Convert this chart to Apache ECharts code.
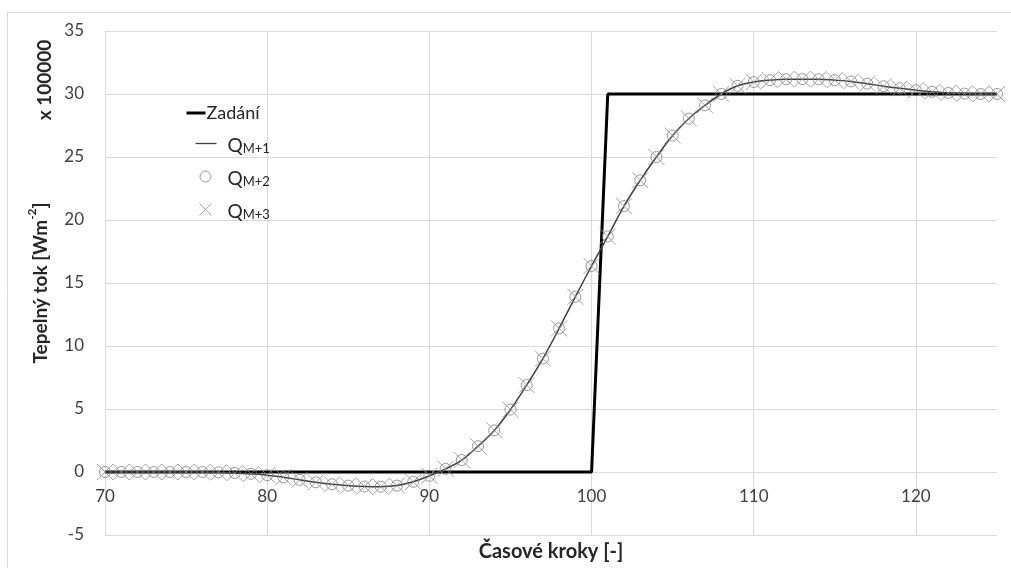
<!DOCTYPE html>
<html>
<head>
<meta charset="utf-8">
<script src="https://cdn.jsdelivr.net/npm/echarts@6/dist/echarts.min.js"></script>
<style>
html,body{margin:0;padding:0;background:#fff;}
#chart{width:1011px;height:568px;}
</style>
</head>
<body>
<div id="chart"></div>
<script>
// Time steps (x axis)
var steps = [70,71,72,73,74,75,76,77,78,79,80,81,82,83,84,85,86,87,88,89,90,91,92,93,94,95,96,97,98,99,100,101,102,103,104,105,106,107,108,109,110,111,112,113,114,115,116,117,118,119,120,121,122,123,124,125];
// Prescribed heat flux (x 100000 W/m2)
var zadaniX = [70, 100, 101, 125];
var zadaniY = [0, 0, 30, 30];
// Reconstructed heat flux, x 100000
var qM1 = [0,0,0,0,0,0,0,-0.03,-0.08,-0.15,-0.25,-0.42,-0.62,-0.82,-0.98,-1.08,-1.15,-1.17,-1.08,-0.78,-0.3,0.25,0.95,2.05,3.3,4.95,6.9,9.0,11.4,13.9,16.35,18.7,21.1,23.15,25.0,26.7,28.05,29.1,30.0,30.65,30.95,31.1,31.17,31.18,31.17,31.1,31.0,30.82,30.62,30.45,30.3,30.18,30.08,30.03,30.0,30.0];
var qM2 = [0,0,0,0,0,0,0,-0.03,-0.08,-0.15,-0.25,-0.42,-0.62,-0.82,-0.98,-1.08,-1.15,-1.17,-1.08,-0.78,-0.3,0.25,0.95,2.05,3.3,4.95,6.9,9.0,11.4,13.9,16.35,18.7,21.1,23.15,25.0,26.7,28.05,29.1,30.0,30.65,30.95,31.1,31.17,31.18,31.17,31.1,31.0,30.82,30.62,30.45,30.3,30.18,30.08,30.03,30.0,30.0];
var qM3 = [0,0,0,0,0,0,0,-0.03,-0.08,-0.15,-0.25,-0.42,-0.62,-0.82,-0.98,-1.08,-1.15,-1.17,-1.08,-0.78,-0.3,0.25,0.95,2.05,3.3,4.95,6.9,9.0,11.4,13.9,16.35,18.7,21.1,23.15,25.0,26.7,28.05,29.1,30.0,30.65,30.95,31.1,31.17,31.18,31.17,31.1,31.0,30.82,30.62,30.45,30.3,30.18,30.08,30.03,30.0,30.0];
var yTicks = {min: -5, max: 35, interval: 5};
var xTicks = {min: 70, max: 125, interval: 10};
var seriesNames = ['Zadání', 'Q M+1', 'Q M+2', 'Q M+3'];

function pairs(xs, ys) { return xs.map(function (x, i) { return [x, ys[i]]; }); }

var FONT = 'Lato, "Open Sans", sans-serif';
var chart = echarts.init(document.getElementById('chart'), null, {renderer: 'canvas'});
var crossPath = 'path://M0,0L10,10M10,0L0,10';
var GRID_TOP = 31, GRID_BOTTOM = 33, H = 568;
// x axis drawn at the y = 0 line: offset from plot bottom computed through the y scale range
var plotH = H - GRID_TOP - GRID_BOTTOM;
var zeroOffset = -plotH * (0 - yTicks.min) / (yTicks.max - yTicks.min);

var option = {
  animation: false,
  backgroundColor: '#fff',
  textStyle: {fontFamily: FONT},
  grid: {left: 105, right: 14, top: GRID_TOP, bottom: GRID_BOTTOM, containLabel: false, outerBoundsMode: 'none'},
  graphic: [
    {type: 'rect', shape: {x: 7.5, y: 12.5, width: 1020, height: 580}, style: {fill: 'none', stroke: '#d9d9d9', lineWidth: 1}, silent: true, z: -10},
    {type: 'text', x: 45, y: 80, rotation: Math.PI / 2, style: {text: 'x 100000', font: 'bold 19px ' + FONT, fill: '#262626', align: 'center', verticalAlign: 'middle'}}
  ],
  legend: {
    orient: 'vertical',
    left: 176,
    top: 99,
    itemGap: 11,
    itemWidth: 36,
    itemHeight: 12,
    data: [
      {name: seriesNames[0], icon: 'path://M0,0M36,12M5,4.5H24V7.5H5Z', itemStyle: {color: '#000', borderWidth: 0}},
      {name: seriesNames[1], icon: 'path://M0,0M36,12M14,5.35H35V6.65H14Z', itemStyle: {color: '#404040', borderWidth: 0}},
      {name: seriesNames[2], icon: 'path://M0,0M36,12M29.5,6A5.5,5.5 0 1 1 18.5,6A5.5,5.5 0 1 1 29.5,6Z',
        itemStyle: {color: 'rgba(0,0,0,0)', borderColor: '#7f7f7f', borderWidth: 1}},
      {name: seriesNames[3], icon: 'path://M0,0M36,12M18,0L30,12M30,0L18,12',
        itemStyle: {color: 'rgba(0,0,0,0)', borderColor: '#8c8c8c', borderWidth: 1}}
    ],
    formatter: function (name) {
      if (name.indexOf(' ') < 0) return '{z|' + name + '}';
      var p = name.split(' ');
      return '{q|' + p[0] + '}{s|' + p[1] + '}';
    },
    textStyle: {
      color: '#262626',
      fontFamily: FONT,
      rich: {
        z: {fontSize: 18, lineHeight: 23, fontFamily: FONT, color: '#262626', padding: [0, 0, 0, -16]},
        q: {fontSize: 19, lineHeight: 23, fontFamily: FONT, color: '#262626', verticalAlign: 'bottom', padding: [0, 0, 0, 5]},
        s: {fontSize: 13, lineHeight: 23, fontFamily: FONT, color: '#262626', verticalAlign: 'bottom', padding: [9, 0, 0, 0]}
      }
    }
  },
  xAxis: {
    type: 'value',
    min: xTicks.min, max: xTicks.max, interval: xTicks.interval,
    position: 'bottom',
    offset: zeroOffset,
    name: 'Časové kroky [-]',
    nameLocation: 'middle',
    nameGap: 70,
    nameTextStyle: {fontSize: 20, fontWeight: 'bold', color: '#262626', fontFamily: FONT},
    axisLine: {show: false, onZero: false},
    axisTick: {show: false},
    axisLabel: {fontSize: 17, color: '#404040', margin: 16, showMaxLabel: false, fontFamily: FONT},
    splitLine: {show: true, lineStyle: {color: ['#d9d9d9','#d9d9d9','#d9d9d9','#d9d9d9','#d9d9d9','#d9d9d9','rgba(0,0,0,0)'], width: 1}}
  },
  yAxis: {
    type: 'value',
    min: yTicks.min, max: yTicks.max, interval: yTicks.interval,
    name: '{a|Tepelný tok [Wm}{s|-2}{a|]}',
    nameLocation: 'middle',
    nameGap: 55,
    nameRotate: 90,
    nameTextStyle: {
      rich: {
        a: {fontSize: 19, fontWeight: 'bold', color: '#262626', fontFamily: FONT, lineHeight: 24, verticalAlign: 'bottom'},
        s: {fontSize: 12, fontWeight: 'bold', color: '#262626', fontFamily: FONT, lineHeight: 24, verticalAlign: 'top'}
      }
    },
    axisLine: {show: false},
    axisTick: {show: false},
    axisLabel: {fontSize: 17, color: '#404040', margin: 21, fontFamily: FONT},
    splitLine: {show: true, lineStyle: {color: '#d9d9d9', width: 1}}
  },
  series: [
    {
      name: seriesNames[0], type: 'line', data: pairs(zadaniX, zadaniY),
      symbol: 'none', lineStyle: {color: '#000', width: 3}, itemStyle: {color: '#000'}, z: 2
    },
    {
      name: seriesNames[1], type: 'line', data: pairs(steps, qM1), smooth: 0.4,
      symbol: 'none', lineStyle: {color: '#404040', width: 1.5}, itemStyle: {color: '#404040'}, z: 3
    },
    {
      name: seriesNames[2], type: 'scatter', data: pairs(steps, qM2),
      symbol: 'circle', symbolSize: 11,
      itemStyle: {color: 'rgba(0,0,0,0)', borderColor: '#7f7f7f', borderWidth: 1}, z: 4
    },
    {
      name: seriesNames[3], type: 'scatter', data: pairs(steps, qM3),
      symbol: crossPath, symbolSize: 16,
      itemStyle: {color: 'rgba(0,0,0,0)', borderColor: '#8c8c8c', borderWidth: 1}, z: 5
    }
  ]
};
chart.setOption(option);
</script>
</body>
</html>
